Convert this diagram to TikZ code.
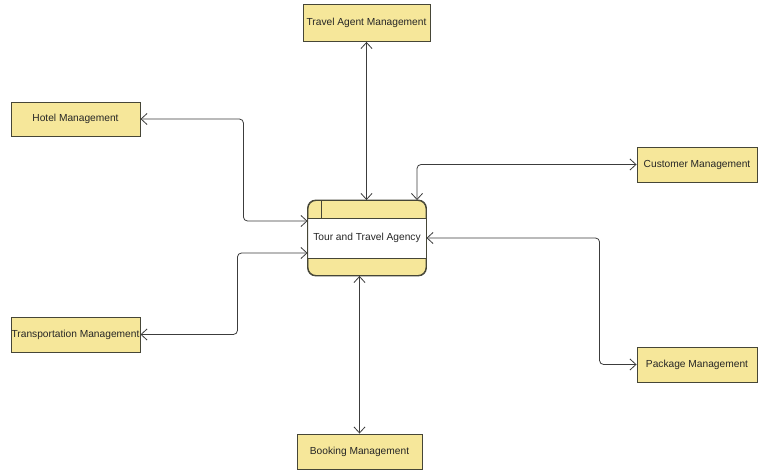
\documentclass[tikz,border=0pt]{standalone}
\usepackage{fontspec}
\setmainfont{Liberation Sans}
\usetikzlibrary{arrows.meta}
\definecolor{boxfill}{RGB}{246,231,154}
\definecolor{boxline}{RGB}{70,70,55}
\definecolor{wire}{RGB}{60,60,60}
\tikzset{
  mgmt/.style={draw=boxline, fill=boxfill, line width=0.9pt, inner sep=0pt,
    font=\fontsize{10.2}{12}\selectfont, text=black!85},
  link/.style={draw=wire, line width=0.8pt, rounded corners=4pt,
    {Straight Barb[length=6pt,width=11pt]}-{Straight Barb[length=6pt,width=11pt]}}
}
\begin{document}
\begin{tikzpicture}[x=1pt,y=-1pt]
\useasboundingbox (0,0) rectangle (758,470);
\fill[white] (0,0) rectangle (758,470);

% external entities
\node[mgmt, minimum width=127pt, minimum height=37pt] (ta) at (366.5,23) {Travel Agent Management};
\node[mgmt, minimum width=129pt, minimum height=34pt] (hotel) at (75.5,119) {Hotel Management};
\node[mgmt, minimum width=120pt, minimum height=35pt] (cust) at (697,164.5) {Customer Management};
\node[mgmt, minimum width=129pt, minimum height=35pt] (trans) at (75.5,334.5) {Transportation Management};
\node[mgmt, minimum width=120pt, minimum height=35pt] (pkg) at (697,364.5) {Package Management};
\node[mgmt, minimum width=125pt, minimum height=35pt] (book) at (359.5,451.5) {Booking Management};

% central process
\node[mgmt, rounded corners=8pt, minimum width=118pt, minimum height=75pt] (agency) at (367,238) {};
\fill[white] ([yshift=-18pt]agency.north west) rectangle ([yshift=17pt]agency.south east);
\draw[boxline, line width=0.9pt] ([yshift=-18pt]agency.north west) -- ([yshift=-18pt]agency.north east);
\draw[boxline, line width=0.9pt] ([yshift=17pt]agency.south west) -- ([yshift=17pt]agency.south east);
\draw[boxline, line width=0.9pt] ([xshift=14pt]agency.north west) -- ([xshift=14pt,yshift=-18pt]agency.north west);
\draw[boxline, line width=0.9pt, rounded corners=8pt] (agency.north west) rectangle (agency.south east);
\node[font=\fontsize{10.2}{12}\selectfont, text=black!85] (agencylabel) at (agency.center) {Tour and Travel Agency};

% data flows
\draw[link] (ta.south) -- (ta.south |- agency.north);
\draw[link] (hotel.east) -- ++(103,0) |- ([yshift=17pt]agency.west);
\draw[link] (trans.east) -- ++(97,0) |- ([yshift=-15pt]agency.west);
\draw[link] (cust.west) -| ([xshift=50pt]agency.north);
\draw[link] (pkg.west) -- ++(-37,0) |- (agency.east);
\draw[link] (book.north) -- (book.north |- agency.south);
\end{tikzpicture}
\end{document}
